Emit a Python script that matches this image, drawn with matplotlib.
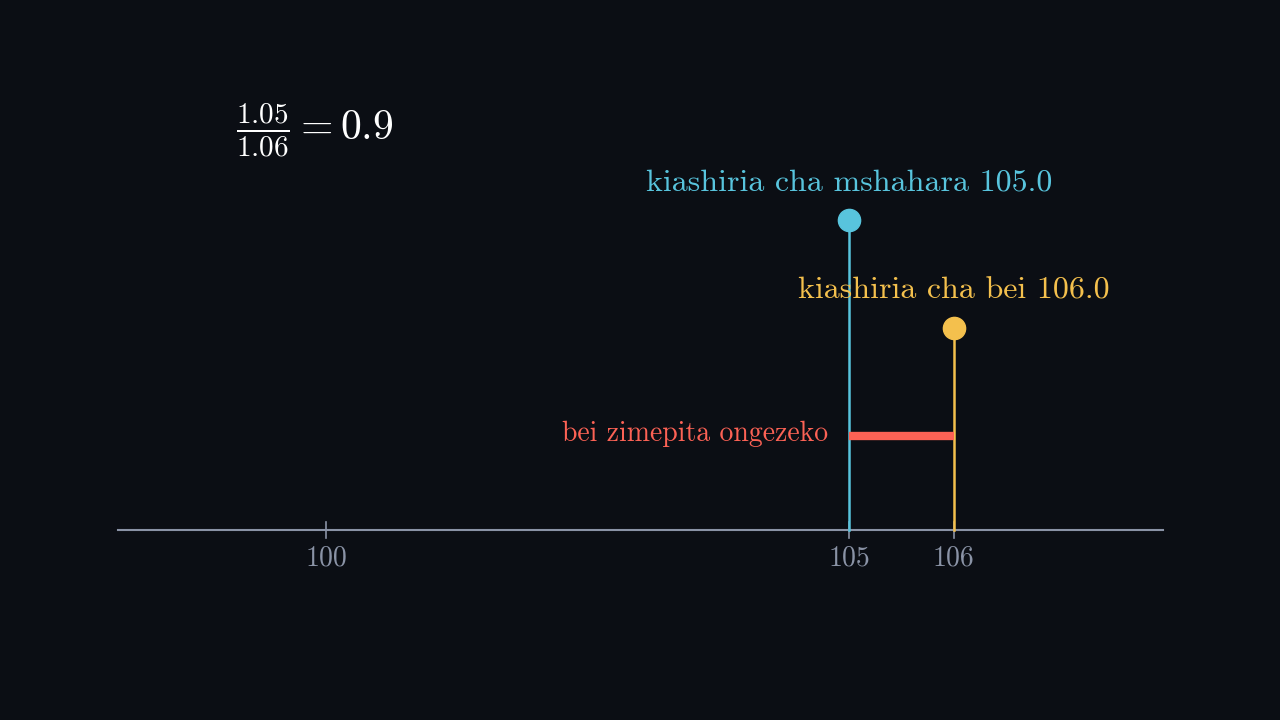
import matplotlib.pyplot as plt

plt.rcParams['mathtext.fontset'] = 'cm'

wage_index = 105.0
price_index = 106.0
ticks = [100, 105, 106]
wage_label = 'kiashiria cha mshahara'
price_label = 'kiashiria cha bei'
gap_label = 'bei zimepita ongezeko'

bg = '#0b0e14'
blue = '#58c4dd'
yellow = '#f4c04d'
red = '#fc6255'
grey = '#8a93a6'

fig = plt.figure(figsize=(12.8, 7.2), dpi=100, facecolor=bg)
ax = fig.add_axes([0, 0, 1, 1])
ax.set_facecolor(bg)
px = 104.6
ax.set_xlim(100 - 326 / px, 100 + 954 / px)
ax.set_ylim(0, 720)
ax.axis('off')

base = 190
ax.plot([100 - 208 / px, 106 + 209 / px], [base, base], color=grey, lw=1.5)
for t in ticks:
    ax.plot([t, t], [base - 8, base + 8], color=grey, lw=1.2)
    ax.text(t, base - 28, str(t), color=grey, fontsize=20, family='cmr10',
            ha='center', va='center')

ax.plot([wage_index, wage_index], [base, 500], color=blue, lw=1.8)
ax.plot(wage_index, 500, 'o', color=blue, ms=16)
ax.text(wage_index, 537, f'{wage_label} {wage_index:.1f}', color=blue,
        fontsize=23, family='cmr10', ha='center', va='center')

ax.plot([price_index, price_index], [base, 392], color=yellow, lw=1.8)
ax.plot(price_index, 392, 'o', color=yellow, ms=16)
ax.text(price_index, 429, f'{price_label} {price_index:.1f}', color=yellow,
        fontsize=23, family='cmr10', ha='center', va='center')

ax.plot([wage_index, price_index], [284, 284], color=red, lw=6, solid_capstyle='butt')
ax.text(wage_index - 0.2, 286, gap_label, color=red, fontsize=20,
        family='cmr10', ha='right', va='center')

ax.text(100 - 90 / px, 590,
        r'$\frac{%.2f}{%.2f} = 0.9$' % (wage_index / 100, price_index / 100),
        color='white', fontsize=30, ha='left', va='center')

fig.savefig('out.png', dpi=100, facecolor=bg)
